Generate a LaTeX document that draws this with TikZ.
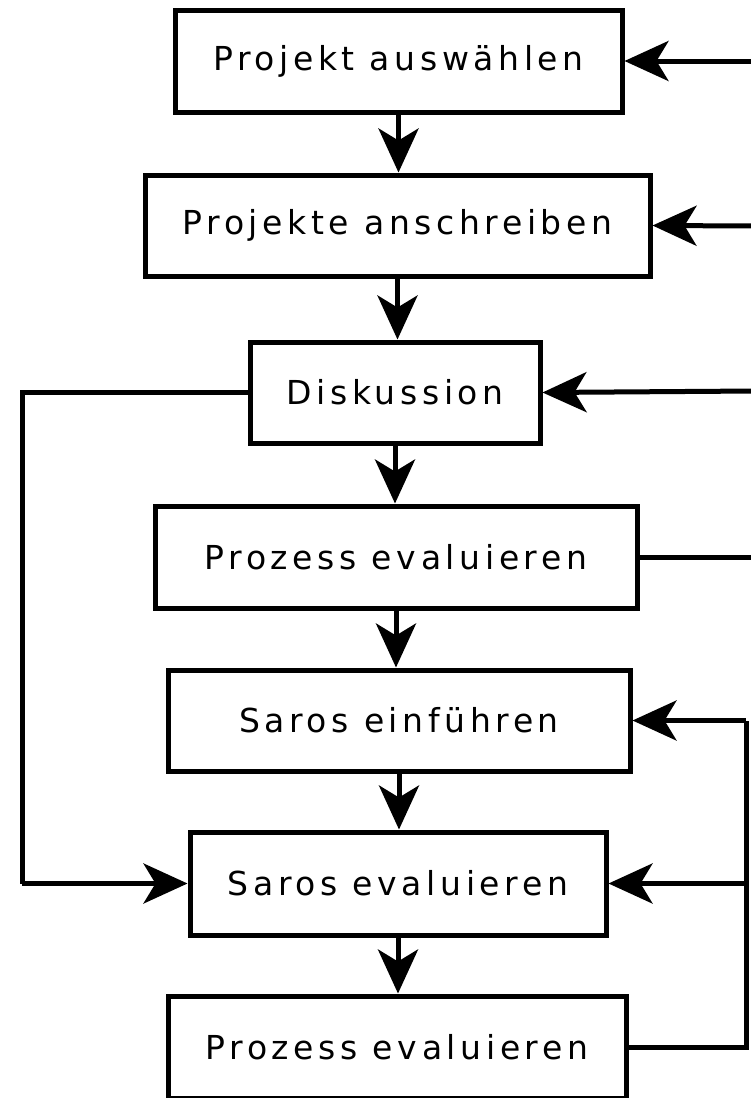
\documentclass[tikz,border=0pt]{standalone}
\usepackage{fontspec}
\setmainfont{DejaVu Sans}[LetterSpace=14]
\usetikzlibrary{arrows.meta}
\begin{document}
\begin{tikzpicture}[x=1pt,y=-1pt,
  box/.style={draw=black,line width=5pt,fill=white,inner sep=0pt,font=\fontsize{33}{38}\selectfont},
  conn/.style={line width=5pt,black},
  arr/.style={conn,-{Stealth[length=44pt,width=40pt,inset=12pt]}}]
\useasboundingbox (0,0) rectangle (751,1098);
\clip (0,0) rectangle (751,1098);
\fill[white] (0,0) rectangle (751,1098);
\node[box,minimum width=447pt,minimum height=102pt] (b1) at (398.5,61) {Projekt auswählen};
\node[box,minimum width=505pt,minimum height=101pt] (b2) at (397.5,225.5) {Projekte anschreiben};
\node[box,minimum width=290pt,minimum height=101pt] (b3) at (395,392.5) {Diskussion};
\node[box,minimum width=482pt,minimum height=102pt] (b4) at (396,557) {Prozess evaluieren};
\node[box,minimum width=462pt,minimum height=101pt] (b5) at (399,720.5) {Saros einführen};
\node[box,minimum width=416pt,minimum height=103pt] (b6) at (398,883.5) {Saros evaluieren};
\node[box,minimum width=458pt,minimum height=102pt] (b7) at (397,1047) {Prozess evaluieren};
\draw[arr] (b1.south) -- (b1.south |- b2.north);
\draw[arr] (b2.south) -- (b2.south |- b3.north);
\draw[arr] (b3.south) -- (b3.south |- b4.north);
\draw[arr] (b4.south) -- (b4.south |- b5.north);
\draw[arr] (b5.south) -- (b5.south |- b6.north);
\draw[arr] (b6.south) -- (b6.south |- b7.north);
\coordinate (r1) at (755,61);
\coordinate (r2) at (755,226);
\coordinate (r3) at (755,391);
\coordinate (r4) at (755,557);
\draw[arr] (r1) -- (b1.east);
\draw[arr] (r2) -- (b2.east);
\draw[arr] (r3) -- (b3.east);
\draw[conn] (b4.east) -- (r4);
\coordinate (rx) at (746,0);
\draw[conn] (b7.east) -- (b7.east -| rx) -- (rx |- b5.east) -- (b5.east -| rx);
\draw[arr] (rx |- b5.east) -- (b5.east);
\draw[arr] (rx |- b6.east) -- (b6.east);
\coordinate (lx) at (22,0);
\draw[conn] (b3.west) -- (b3.west -| lx) -- (lx |- b6.west);
\draw[arr] (lx |- b6.west) -- (b6.west);
\end{tikzpicture}
\end{document}
